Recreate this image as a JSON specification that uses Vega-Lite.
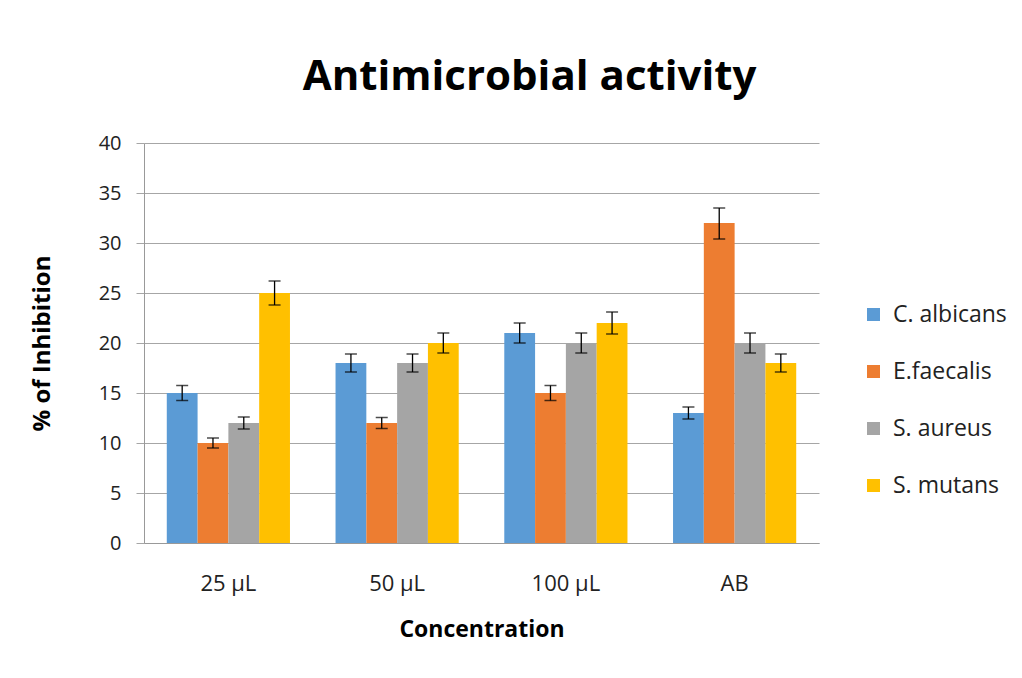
{
  "$schema": "https://vega.github.io/schema/vega-lite/v6.json",
  "width": 675,
  "height": 400,
  "autosize": {"type": "none"},
  "padding": {"left": 144, "top": 143, "right": 203, "bottom": 135},
  "background": "white",
  "title": {
    "text": "Antimicrobial activity",
    "font": "Open Sans",
    "fontSize": 42,
    "fontWeight": "bold",
    "color": "#000000",
    "anchor": "middle",
    "dx": 48,
    "offset": 34
  },
  "data": {
    "values": [
      {"conc": "25 µL", "species": "C. albicans", "value": 15, "lo": 14.25, "hi": 15.75},
      {"conc": "25 µL", "species": "E.faecalis", "value": 10, "lo": 9.5, "hi": 10.5},
      {"conc": "25 µL", "species": "S. aureus", "value": 12, "lo": 11.4, "hi": 12.6},
      {"conc": "25 µL", "species": "S. mutans", "value": 25, "lo": 23.8, "hi": 26.2},
      {"conc": "50 µL", "species": "C. albicans", "value": 18, "lo": 17.1, "hi": 18.9},
      {"conc": "50 µL", "species": "E.faecalis", "value": 12, "lo": 11.45, "hi": 12.55},
      {"conc": "50 µL", "species": "S. aureus", "value": 18, "lo": 17.1, "hi": 18.9},
      {"conc": "50 µL", "species": "S. mutans", "value": 20, "lo": 19, "hi": 21},
      {"conc": "100 µL", "species": "C. albicans", "value": 21, "lo": 20, "hi": 22},
      {"conc": "100 µL", "species": "E.faecalis", "value": 15, "lo": 14.25, "hi": 15.75},
      {"conc": "100 µL", "species": "S. aureus", "value": 20, "lo": 19, "hi": 21},
      {"conc": "100 µL", "species": "S. mutans", "value": 22, "lo": 20.9, "hi": 23.1},
      {"conc": "AB", "species": "C. albicans", "value": 13, "lo": 12.4, "hi": 13.6},
      {"conc": "AB", "species": "E.faecalis", "value": 32, "lo": 30.4, "hi": 33.5},
      {"conc": "AB", "species": "S. aureus", "value": 20, "lo": 19, "hi": 21},
      {"conc": "AB", "species": "S. mutans", "value": 18, "lo": 17.1, "hi": 18.9}
    ]
  },
  "encoding": {
    "x": {
      "field": "conc",
      "type": "nominal",
      "sort": ["25 µL", "50 µL", "100 µL", "AB"],
      "scale": {"paddingInner": 0.27, "paddingOuter": 0.135},
      "axis": {
        "title": "Concentration",
        "labelAngle": 0,
        "labelFont": "Open Sans",
        "labelFontSize": 22,
        "labelColor": "#222222",
        "labelPadding": 30,
        "ticks": false,
        "domainColor": "#999999",
        "titleFont": "Open Sans",
        "titleFontSize": 23,
        "titleFontWeight": "bold",
        "titleColor": "#000000",
        "titlePadding": 24
      }
    },
    "xOffset": {
      "field": "species",
      "type": "nominal",
      "sort": ["C. albicans", "E.faecalis", "S. aureus", "S. mutans"],
      "scale": {"paddingInner": 0, "paddingOuter": 0}
    }
  },
  "layer": [
    {
      "mark": {"type": "bar"},
      "encoding": {
        "y": {
          "field": "value",
          "type": "quantitative",
          "scale": {"domain": [0, 40], "nice": false},
          "axis": {
            "title": "% of Inhibition",
            "values": [0, 5, 10, 15, 20, 25, 30, 35, 40],
            "ticks": true,
            "tickSize": 8,
            "tickColor": "#A6A6A6",
            "labelFont": "Open Sans",
            "labelFontSize": 20,
            "labelColor": "#222222",
            "labelPadding": 15,
            "domainColor": "#999999",
            "gridColor": "#A6A6A6",
            "gridWidth": 1,
            "titleFont": "Open Sans",
            "titleFontSize": 24,
            "titleFontWeight": "bold",
            "titleColor": "#000000",
            "titlePadding": 44
          }
        },
        "color": {
          "field": "species",
          "type": "nominal",
          "sort": ["C. albicans", "E.faecalis", "S. aureus", "S. mutans"],
          "scale": {
            "domain": ["C. albicans", "E.faecalis", "S. aureus", "S. mutans"],
            "range": ["#5B9BD5", "#ED7D31", "#A5A5A5", "#FFC000"]
          },
          "legend": {
            "title": null,
            "orient": "none",
            "legendX": 718,
            "legendY": 160,
            "symbolType": "square",
            "symbolSize": 169,
            "symbolStrokeWidth": 0,
            "labelFont": "Open Sans",
            "labelFontSize": 23,
            "labelColor": "#222222",
            "labelOffset": 8,
            "rowPadding": 33
          }
        }
      }
    },
    {
      "mark": {"type": "rule", "color": "#000000", "strokeWidth": 1.3},
      "encoding": {
        "y": {"field": "lo", "type": "quantitative"},
        "y2": {"field": "hi"}
      }
    },
    {
      "mark": {"type": "tick", "color": "#000000", "size": 12, "thickness": 1.5},
      "encoding": {
        "y": {"field": "lo", "type": "quantitative"}
      }
    },
    {
      "mark": {"type": "tick", "color": "#000000", "size": 12, "thickness": 1.5},
      "encoding": {
        "y": {"field": "hi", "type": "quantitative"}
      }
    }
  ],
  "config": {
    "view": {"stroke": null}
  }
}
